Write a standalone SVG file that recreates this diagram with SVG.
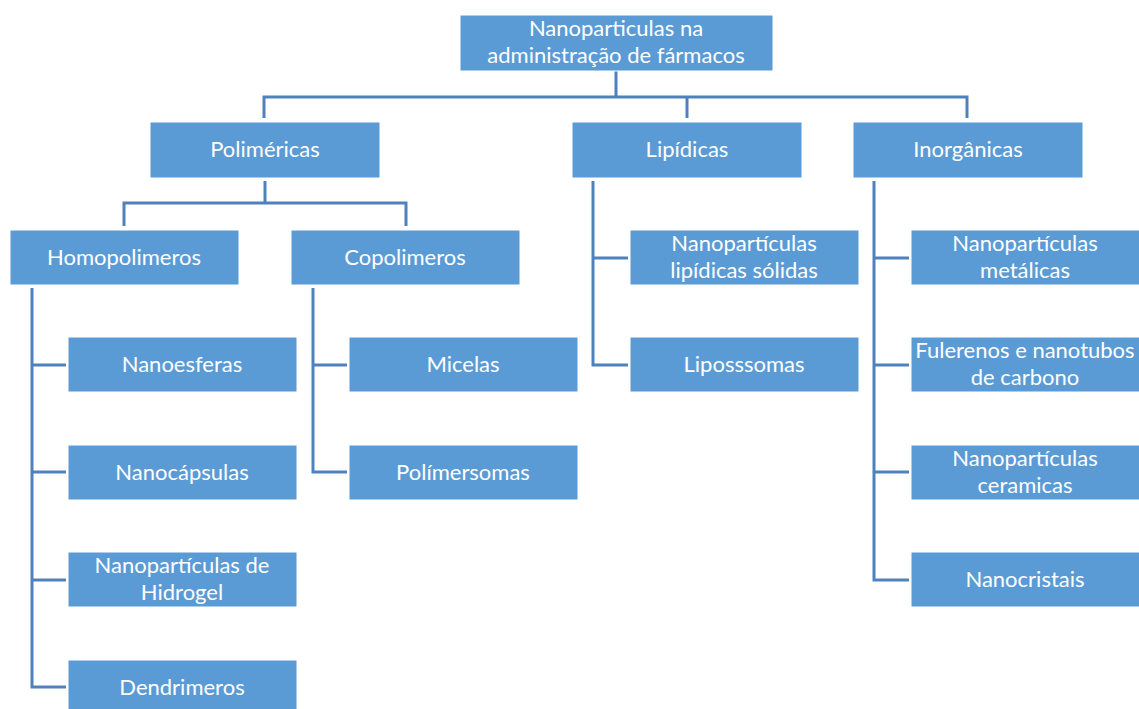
<svg xmlns="http://www.w3.org/2000/svg" width="1139" height="709" viewBox="0 0 1139 709">
<style>
.box{fill:#5B9BD5;stroke:#ffffff;stroke-width:1}
.t{font-family:Lato,"Open Sans","Liberation Sans",sans-serif;font-size:22px;fill:#ffffff;text-anchor:middle}
.c{fill:none;stroke:#4F81BD;stroke-width:3;stroke-linejoin:miter}
</style>
<rect width="1139" height="709" fill="#ffffff"/>
<g id="connectors">
<path class="c" d="M616,71 V97 M264,118 V97 H967 V118 M687,97 V118"/>
<path class="c" d="M265,181 V203 M124,226 V203 H406 V226"/>
<path class="c" d="M32,288 V687 H66 M32,365 H66 M32,472 H66 M32,580 H66"/>
<path class="c" d="M313,288 V472 H347 M313,365 H347"/>
<path class="c" d="M593,181 V365 H628 M593,258 H628"/>
<path class="c" d="M874,181 V580 H909 M874,258 H909 M874,365 H909 M874,472 H909"/>
</g>
<g id="root"><rect class="box" x="460" y="15" width="313" height="56"/><text class="t" x="616" y="36">Nanoparticulas na</text><text class="t" x="616" y="63">administração de fármacos</text></g>
<g id="polimericas"><rect class="box" x="150" y="122" width="230" height="56"/><text class="t" x="265" y="157">Poliméricas</text></g>
<g id="lipidicas"><rect class="box" x="572" y="122" width="230" height="56"/><text class="t" x="687" y="157">Lipídicas</text></g>
<g id="inorganicas"><rect class="box" x="853" y="122" width="230" height="56"/><text class="t" x="968" y="157">Inorgânicas</text></g>
<g id="homopolimeros"><rect class="box" x="10" y="230" width="229" height="55"/><text class="t" x="124" y="265">Homopolimeros</text></g>
<g id="copolimeros"><rect class="box" x="291" y="230" width="229" height="55"/><text class="t" x="405" y="265">Copolimeros</text></g>
<g id="nanoesferas"><rect class="box" x="68" y="337" width="229" height="55"/><text class="t" x="182" y="372">Nanoesferas</text></g>
<g id="nanocapsulas"><rect class="box" x="68" y="445" width="229" height="55"/><text class="t" x="182" y="480">Nanocápsulas</text></g>
<g id="hidrogel"><rect class="box" x="68" y="552" width="229" height="55"/><text class="t" x="182" y="573">Nanopartículas de</text><text class="t" x="182" y="600">Hidrogel</text></g>
<g id="dendrimeros"><rect class="box" x="68" y="660" width="229" height="55"/><text class="t" x="182" y="695">Dendrimeros</text></g>
<g id="micelas"><rect class="box" x="349" y="337" width="229" height="55"/><text class="t" x="463" y="372">Micelas</text></g>
<g id="polimersomas"><rect class="box" x="349" y="445" width="229" height="55"/><text class="t" x="463" y="480">Polímersomas</text></g>
<g id="nls"><rect class="box" x="630" y="230" width="229" height="55"/><text class="t" x="744" y="251">Nanopartículas</text><text class="t" x="744" y="278">lipídicas sólidas</text></g>
<g id="lipossomas"><rect class="box" x="630" y="337" width="229" height="55"/><text class="t" x="744" y="372">Liposssomas</text></g>
<g id="metalicas"><rect class="box" x="911" y="230" width="229" height="55"/><text class="t" x="1025" y="251">Nanopartículas</text><text class="t" x="1025" y="278">metálicas</text></g>
<g id="fulerenos"><rect class="box" x="911" y="337" width="229" height="55"/><text class="t" x="1025" y="358">Fulerenos e nanotubos</text><text class="t" x="1025" y="385">de carbono</text></g>
<g id="ceramicas"><rect class="box" x="911" y="445" width="229" height="55"/><text class="t" x="1025" y="466">Nanopartículas</text><text class="t" x="1025" y="493">ceramicas</text></g>
<g id="nanocristais"><rect class="box" x="911" y="552" width="229" height="55"/><text class="t" x="1025" y="587">Nanocristais</text></g>
</svg>
